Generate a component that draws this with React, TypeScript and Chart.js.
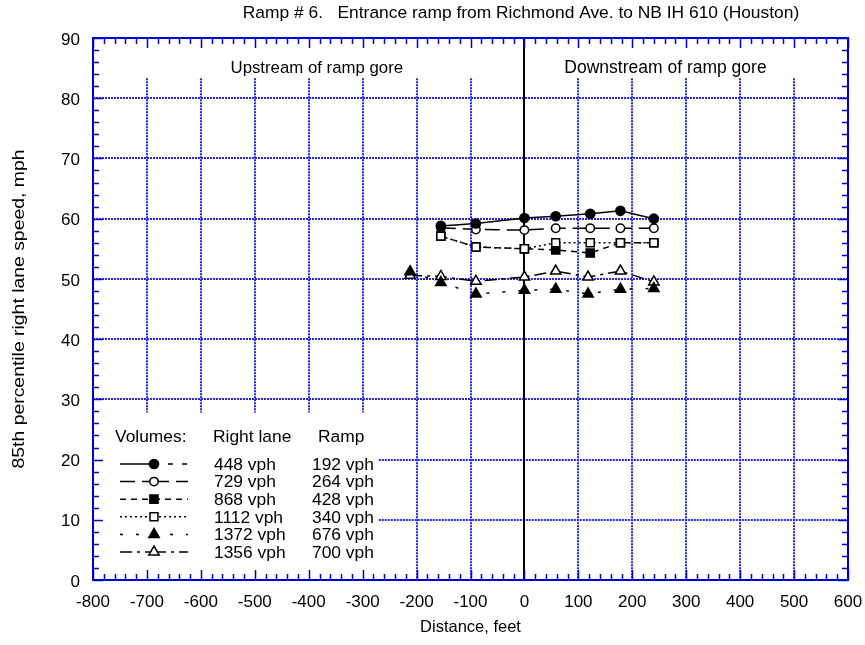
import React, { useEffect, useRef } from "react";
import { Chart, registerables } from "chart.js";

Chart.register(...registerables);

// ---- data ----
const TITLE = "Ramp # 6.   Entrance ramp from Richmond Ave. to NB IH 610 (Houston)";
const X_TITLE = "Distance, feet";
const Y_TITLE = "85th percentile right lane speed, mph";
const REGION_LABELS = ["Upstream of ramp gore", "Downstream of ramp gore"];
const REGION_X = [-545, 74]; // left edge of each label, feet
const REGION_Y = 85;

const rightLane = ["448 vph", "729 vph", "868 vph", "1112 vph", "1372 vph", "1356 vph"];
const ramp = ["192 vph", "264 vph", "428 vph", "340 vph", "676 vph", "700 vph"];

const s1X = [-155, -90, 0, 58, 122, 178, 240];
const s1Y = [58.8, 59.2, 60.1, 60.4, 60.8, 61.3, 60.0];
const s2X = [-155, -90, 0, 58, 122, 178, 240];
const s2Y = [58.5, 58.2, 58.1, 58.4, 58.4, 58.4, 58.4];
const s3X = [-155, -90, 0, 58, 122, 178, 240];
const s3Y = [57.1, 55.3, 55.0, 54.8, 54.3, 56.0, 56.0];
const s4X = [-155, -90, 0, 58, 122, 178, 240];
const s4Y = [57.1, 55.3, 55.0, 56.0, 56.0, 56.0, 56.0];
const s5X = [-212, -155, -90, 0, 58, 118, 178, 240];
const s5Y = [51.2, 49.4, 47.5, 48.1, 48.3, 47.5, 48.3, 48.4];
const s6X = [-212, -155, -90, 0, 58, 118, 178, 240];
const s6Y = [50.6, 50.4, 49.6, 50.3, 51.3, 50.3, 51.3, 49.5];

const X_MIN = -800, X_MAX = 600, X_STEP = 100, X_MINOR = 20;
const Y_MIN = 0, Y_MAX = 90, Y_STEP = 10, Y_MINOR = 2;

// grid cut-outs (data coords)
const GRID_TOP = 83.3;
const LEGEND_RIGHT = -270;
const LEGEND_TOP = 27.8;

const FONT = "'Liberation Sans', Arial, Helvetica, sans-serif";
const BLUE = "#0000cc";
const GRID_BLUE = "#2525e8";

type SeriesStyle = {
  style: string;
  fill: boolean;
  radius: number;
  dash: number[];
  order: number;
};

const styles: SeriesStyle[] = [
  { style: "circle", fill: true, radius: 4.6, dash: [], order: 0 },
  { style: "circle", fill: false, radius: 4.2, dash: [15, 7], order: 1 },
  { style: "rect", fill: true, radius: 5.8, dash: [6, 5], order: 3 },
  { style: "rect", fill: false, radius: 5.6, dash: [2, 3], order: 2 },
  { style: "triangle", fill: true, radius: 6, dash: [3, 13], order: 4 },
  { style: "triangle", fill: false, radius: 6, dash: [12, 5, 3, 5], order: 5 },
];

const seriesX = [s1X, s2X, s3X, s4X, s5X, s6X];
const seriesY = [s1Y, s2Y, s3Y, s4Y, s5Y, s6Y];

function drawMarker(ctx: CanvasRenderingContext2D, st: SeriesStyle, x: number, y: number) {
  ctx.save();
  ctx.setLineDash([]);
  ctx.lineWidth = 1.5;
  ctx.strokeStyle = "#000";
  ctx.fillStyle = st.fill ? "#000" : "#fff";
  ctx.beginPath();
  const r = st.radius;
  if (st.style === "circle") {
    ctx.arc(x, y, r, 0, Math.PI * 2);
  } else if (st.style === "rect") {
    const s = Math.SQRT1_2 * r;
    ctx.rect(x - s, y - s, 2 * s, 2 * s);
  } else {
    ctx.moveTo(x, y - r);
    ctx.lineTo(x + Math.sin(Math.PI / 3) * r, y + 0.5 * r);
    ctx.lineTo(x - Math.sin(Math.PI / 3) * r, y + 0.5 * r);
    ctx.closePath();
  }
  ctx.fill();
  ctx.stroke();
  ctx.restore();
}

const decorPlugin = {
  id: "decor",
  beforeDatasetsDraw(chart: any) {
    const ctx: CanvasRenderingContext2D = chart.ctx;
    const xs = chart.scales.x;
    const ys = chart.scales.y;
    ctx.save();
    ctx.strokeStyle = GRID_BLUE;
    ctx.lineWidth = 2;
    ctx.setLineDash([2, 1]);
    // horizontal grid
    for (let v = Y_MIN + Y_STEP; v < Y_MAX; v += Y_STEP) {
      const y = Math.round(ys.getPixelForValue(v));
      const startX = v < LEGEND_TOP ? xs.getPixelForValue(LEGEND_RIGHT) : xs.left;
      ctx.beginPath();
      ctx.moveTo(startX, y);
      ctx.lineTo(xs.right, y);
      ctx.stroke();
    }
    // vertical grid
    for (let v = X_MIN + X_STEP; v < X_MAX; v += X_STEP) {
      if (v === 0) continue;
      const x = Math.round(xs.getPixelForValue(v));
      const bottom = v < LEGEND_RIGHT ? ys.getPixelForValue(LEGEND_TOP) : ys.bottom;
      ctx.beginPath();
      ctx.moveTo(x, ys.getPixelForValue(GRID_TOP));
      ctx.lineTo(x, bottom);
      ctx.stroke();
    }
    // zero line
    ctx.setLineDash([]);
    ctx.strokeStyle = "#000";
    ctx.lineWidth = 2;
    const x0 = Math.round(xs.getPixelForValue(0));
    ctx.beginPath();
    ctx.moveTo(x0, ys.top);
    ctx.lineTo(x0, ys.bottom);
    ctx.stroke();
    ctx.restore();
  },
  afterDraw(chart: any) {
    const ctx: CanvasRenderingContext2D = chart.ctx;
    const xs = chart.scales.x;
    const ys = chart.scales.y;
    const ca = chart.chartArea;
    ctx.save();
    // frame
    ctx.strokeStyle = BLUE;
    ctx.lineWidth = 2;
    ctx.setLineDash([]);
    ctx.strokeRect(ca.left, ca.top, ca.right - ca.left, ca.bottom - ca.top);
    // ticks
    ctx.lineWidth = 1.5;
    for (let v = X_MIN; v <= X_MAX + 0.001; v += X_MINOR) {
      const x = Math.round(xs.getPixelForValue(v)) + 0.5;
      const major = Math.abs(v % X_STEP) < 0.001;
      const len = major ? 10 : 6;
      ctx.beginPath();
      ctx.moveTo(x, ca.bottom);
      ctx.lineTo(x, ca.bottom - len);
      ctx.moveTo(x, ca.top);
      ctx.lineTo(x, ca.top + len);
      ctx.stroke();
    }
    for (let v = Y_MIN; v <= Y_MAX + 0.001; v += Y_MINOR) {
      const y = Math.round(ys.getPixelForValue(v)) + 0.5;
      const major = Math.abs(v % Y_STEP) < 0.001;
      const len = major ? 10 : 6;
      ctx.beginPath();
      ctx.moveTo(ca.left, y);
      ctx.lineTo(ca.left + len, y);
      ctx.moveTo(ca.right, y);
      ctx.lineTo(ca.right - len, y);
      ctx.stroke();
    }
    // texts
    ctx.fillStyle = "#000";
    ctx.textBaseline = "middle";
    ctx.textAlign = "center";
    ctx.font = `17.4px ${FONT}`;
    ctx.fillText(TITLE, 521, 13);
    ctx.font = `16.5px ${FONT}`;
    ctx.fillText(X_TITLE, (ca.left + ca.right) / 2, 627);
    ctx.textAlign = "left";
    ctx.font = `16.8px ${FONT}`;
    ctx.fillText(REGION_LABELS[0], xs.getPixelForValue(REGION_X[0]), ys.getPixelForValue(REGION_Y));
    ctx.font = `17.5px ${FONT}`;
    ctx.fillText(REGION_LABELS[1], xs.getPixelForValue(REGION_X[1]), ys.getPixelForValue(REGION_Y));
    ctx.textAlign = "center";
    ctx.save();
    ctx.font = `17px ${FONT}`;
    ctx.translate(19, (ca.top + ca.bottom) / 2);
    ctx.rotate(-Math.PI / 2);
    ctx.scale(1.14, 1);
    ctx.fillText(Y_TITLE, 0, 0);
    ctx.restore();

    // legend
    ctx.font = `17.4px ${FONT}`;
    const lx = ca.left;
    ctx.textAlign = "left";
    ctx.fillText("Volumes:", lx + 22, 437);
    ctx.fillText("Right lane", lx + 120, 437);
    ctx.fillText("Ramp", lx + 225, 437);
    const rowY0 = 464;
    const rowStep = 17.6;
    for (let i = 0; i < styles.length; i++) {
      const y = rowY0 + i * rowStep;
      const st = styles[i];
      ctx.strokeStyle = "#000";
      ctx.lineWidth = 1.5;
      const a = lx + 27, m = lx + 61, b = lx + 95;
      ctx.setLineDash(st.dash);
      ctx.beginPath();
      ctx.moveTo(a, y);
      ctx.lineTo(m, y);
      ctx.stroke();
      ctx.setLineDash(st.dash.length ? st.dash : [5, 9]);
      ctx.beginPath();
      ctx.moveTo(m, y);
      ctx.lineTo(b, y);
      ctx.stroke();
      ctx.setLineDash([]);
      drawMarker(ctx, st, m, y);
      ctx.fillStyle = "#000";
      ctx.fillText(rightLane[i], lx + 121, y + 1);
      ctx.fillText(ramp[i], lx + 219, y + 1);
    }
    ctx.restore();
  },
};

export default function App() {
  const ref = useRef<HTMLCanvasElement | null>(null);
  useEffect(() => {
    if (!ref.current) return;
    const datasets = styles.map((st, i) => ({
      label: rightLane[i],
      order: st.order,
      data: seriesX[i].map((x, j) => ({ x, y: seriesY[i][j] })),
      borderColor: "#000",
      borderWidth: 1.5,
      borderDash: st.dash,
      backgroundColor: st.fill ? "#000" : "#fff",
      pointStyle: st.style,
      pointRadius: st.radius,
      pointBackgroundColor: st.fill ? "#000" : "#fff",
      pointBorderColor: "#000",
      pointBorderWidth: 1.5,
      tension: 0,
      fill: false,
    }));
    const chart = new Chart(ref.current, {
      type: "line",
      data: { datasets },
      options: {
        responsive: false,
        animation: false,
        devicePixelRatio: 1,
        layout: { padding: { top: 38, right: 17, left: 0, bottom: 0 } },
        plugins: { legend: { display: false }, title: { display: false }, tooltip: { enabled: false } },
        scales: {
          x: {
            type: "linear",
            min: X_MIN,
            max: X_MAX,
            afterFit: (s: any) => { s.height = 65; },
            grid: { display: false, drawTicks: true, tickLength: 12 },
            border: { display: false },
            ticks: {
              stepSize: X_STEP,
              autoSkip: false,
              maxRotation: 0,
              padding: 0,
              color: "#000",
              font: { family: FONT, size: 17 },
            },
          },
          y: {
            type: "linear",
            min: Y_MIN,
            max: Y_MAX,
            afterFit: (s: any) => { s.width = 93; },
            grid: { display: false, drawTicks: false },
            border: { display: false },
            ticks: {
              stepSize: Y_STEP,
              padding: 13,
              labelOffset: 2,
              color: "#000",
              font: { family: FONT, size: 17 },
            },
          },
        },
      },
      plugins: [decorPlugin],
    } as any);
    return () => chart.destroy();
  }, []);
  return (
    <div style={{ position: "fixed", left: 0, top: 0, width: 865, height: 645, background: "#fff" }}>
      <canvas ref={ref} width={865} height={645} style={{ display: "block", width: 865, height: 645 }} />
    </div>
  );
}
